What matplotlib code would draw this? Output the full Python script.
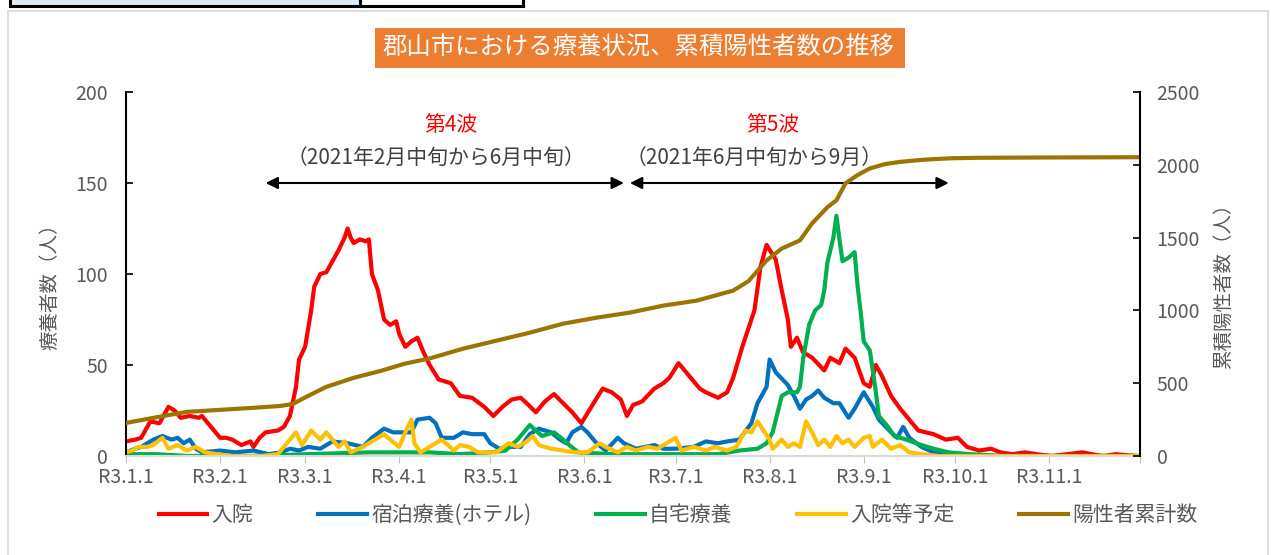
import datetime as dt
import matplotlib.pyplot as plt
import matplotlib.dates as mdates
from matplotlib.patches import Rectangle

plt.rcParams['font.family'] = ['Noto Sans CJK JP', 'DejaVu Sans']

start = dt.date(2021, 1, 1)
end = dt.date(2021, 12, 1)

# (日数 from 2021-01-01, 値)
nyuin = [(0, 8), (3, 9), (5, 10), (8, 19), (11, 18), (14, 27), (16, 25), (18, 21), (21, 22), (24, 21),
         (25, 22), (28, 16), (31, 10), (33, 10), (35, 9), (38, 6), (41, 8), (42, 5), (44, 10), (46, 13),
         (50, 14), (52, 16), (54, 22), (56, 38), (57, 53), (59, 60), (61, 80), (62, 93), (64, 100), (66, 101),
         (68, 107), (70, 113), (72, 120), (73, 125), (74, 120), (75, 117), (77, 119), (79, 118), (80, 119),
         (81, 100), (83, 91), (85, 75), (87, 72), (89, 74), (90, 67), (92, 60), (94, 63), (96, 65), (98, 57),
         (100, 50), (103, 42), (107, 40), (110, 33), (114, 32), (118, 27), (121, 22), (124, 27), (127, 31),
         (130, 32), (132, 29), (135, 24), (138, 30), (141, 34), (144, 29), (147, 24), (150, 18), (154, 29),
         (157, 37), (160, 35), (163, 31), (165, 22), (167, 28), (170, 30), (174, 37), (177, 40), (179, 43),
         (182, 51), (186, 43), (189, 37), (191, 35), (195, 32), (198, 35), (200, 43), (203, 60), (207, 80),
         (209, 104), (211, 116), (214, 108), (216, 91), (218, 75), (219, 60), (221, 65), (223, 57), (226, 54),
         (230, 47), (232, 54), (235, 51), (237, 59), (240, 54), (243, 40), (245, 38), (247, 50), (249, 44),
         (252, 33), (255, 26), (258, 20), (261, 14), (266, 12), (270, 9), (274, 10), (277, 5), (281, 3),
         (285, 4), (288, 2), (292, 1), (296, 2), (300, 1), (305, 0), (310, 1), (315, 2), (318, 1), (322, 0),
         (326, 1), (333, 0)]

hotel = [(0, 2), (3, 4), (5, 5), (9, 9), (12, 11), (15, 9), (17, 10), (19, 7), (21, 9), (23, 4), (25, 2),
         (31, 3), (36, 2), (42, 3), (47, 1), (51, 2), (54, 4), (57, 3), (60, 5), (64, 4), (68, 8), (73, 7),
         (78, 5), (81, 10), (85, 15), (88, 13), (90, 13), (94, 13), (96, 20), (100, 21), (102, 18), (104, 10),
         (108, 10), (111, 13), (114, 12), (118, 12), (120, 7), (123, 4), (127, 5), (130, 5), (133, 12),
         (136, 15), (140, 13), (143, 9), (145, 7), (147, 13), (150, 16), (152, 13), (155, 7), (158, 3),
         (162, 10), (164, 7), (168, 4), (174, 6), (177, 4), (181, 4), (187, 5), (191, 8), (195, 7), (198, 8),
         (202, 9), (206, 18), (208, 29), (211, 38), (212, 53), (214, 46), (218, 39), (220, 33), (222, 26),
         (224, 31), (226, 33), (228, 36), (230, 32), (233, 29), (235, 29), (238, 21), (240, 26), (243, 35),
         (246, 27), (248, 20), (252, 13), (254, 10), (256, 16), (258, 10), (262, 5), (266, 2), (272, 1),
         (280, 0), (333, 0)]

jitaku = [(0, 1), (10, 1), (20, 0), (40, 0), (60, 1), (80, 2), (100, 2), (110, 1), (120, 2), (125, 3),
          (129, 9), (131, 13), (133, 17), (135, 14), (137, 11), (141, 13), (144, 9), (146, 6), (149, 2),
          (160, 1), (180, 1), (195, 1), (202, 3), (208, 4), (211, 7), (213, 13), (216, 33), (218, 35),
          (221, 35), (222, 38), (223, 53), (225, 72), (227, 80), (229, 83), (230, 91), (231, 106), (233, 120),
          (234, 132), (235, 119), (236, 107), (238, 109), (240, 112), (241, 93), (242, 79), (243, 63),
          (245, 58), (246, 47), (247, 35), (248, 22), (251, 16), (253, 11), (257, 9), (262, 6), (266, 4),
          (271, 2), (278, 1), (290, 0), (333, 0)]

yotei = [(0, 2), (2, 3), (4, 5), (7, 5), (9, 6), (12, 10), (14, 4), (17, 6), (20, 3), (23, 5), (26, 2),
         (30, 1), (35, 0), (45, 0), (50, 1), (53, 7), (56, 13), (58, 6), (61, 14), (64, 9), (66, 13), (70, 5),
         (72, 8), (74, 2), (78, 5), (81, 8), (85, 12), (87, 9), (90, 5), (92, 13), (94, 20), (95, 7), (97, 2),
         (100, 5), (104, 9), (108, 3), (110, 6), (113, 5), (116, 2), (122, 2), (126, 7), (129, 5), (132, 8),
         (134, 11), (136, 6), (140, 4), (144, 3), (148, 2), (152, 2), (156, 7), (158, 5), (162, 2), (165, 5),
         (168, 3), (172, 5), (175, 4), (178, 7), (181, 10), (183, 3), (187, 5), (191, 3), (194, 5), (198, 3),
         (201, 5), (204, 14), (206, 13), (208, 19), (210, 14), (212, 9), (213, 4), (216, 9), (218, 5),
         (220, 7), (222, 5), (224, 19), (226, 13), (228, 6), (230, 9), (232, 5), (234, 11), (236, 7),
         (238, 9), (240, 5), (243, 10), (245, 11), (246, 5), (249, 9), (252, 4), (255, 6), (258, 2),
         (262, 1), (268, 0), (333, 0)]

ruikei = [(0, 227), (9, 262), (20, 303), (31, 317), (42, 331), (51, 344), (55, 358), (60, 413), (66, 475),
          (75, 537), (84, 585), (92, 635), (100, 670), (111, 737), (122, 792), (133, 847), (144, 909),
          (155, 950), (166, 985), (177, 1033), (188, 1067), (200, 1136), (205, 1200), (211, 1343),
          (216, 1425), (222, 1481), (226, 1598), (231, 1708), (234, 1756), (237, 1873), (241, 1930),
          (245, 1975), (250, 2005), (255, 2020), (260, 2030), (265, 2038), (272, 2045), (280, 2048),
          (300, 2050), (333, 2052)]

month_labels = ['R3.1.1', 'R3.2.1', 'R3.3.1', 'R3.4.1', 'R3.5.1', 'R3.6.1', 'R3.7.1',
                'R3.8.1', 'R3.9.1', 'R3.10.1', 'R3.11.1', '']


def split(pairs):
    return [start + dt.timedelta(days=d) for d, _ in pairs], [v for _, v in pairs]


W, H = 1271, 555
fig = plt.figure(figsize=(W / 100, H / 100), dpi=100)

# 枠
fig.patches.append(Rectangle((8 / W, -0.02), 1260 / W, 544 / H + 0.02, transform=fig.transFigure,
                             fill=False, edgecolor='#D9D9D9', lw=1.2))
fig.patches.append(Rectangle((10 / W, 1 - 6 / H), 350 / W, 0.05, transform=fig.transFigure,
                             facecolor='#DDEBF7', edgecolor='black', lw=2.2))
fig.patches.append(Rectangle((360 / W, 1 - 6 / H), 163 / W, 0.05, transform=fig.transFigure,
                             facecolor='white', edgecolor='black', lw=2.2))

# タイトル
fig.patches.append(Rectangle((375 / W, 1 - 68 / H), 530 / W, 40 / H, transform=fig.transFigure,
                             facecolor='#ED7D31', edgecolor='none'))
fig.text(638 / W, 1 - 48 / H, '郡山市における療養状況、累積陽性者数の推移', color='white',
         fontsize=17.6, ha='center', va='center')

ax = fig.add_axes([126 / W, 99 / H, 1014 / W, 364 / H])
ax2 = ax.twinx()

lw = 3
l1, = ax.plot(*split(nyuin), color='#FF0000', lw=lw, label='入院')
l2, = ax.plot(*split(hotel), color='#0070C0', lw=lw, label='宿泊療養(ホテル)')
l3, = ax.plot(*split(jitaku), color='#00B050', lw=lw, label='自宅療養')
l4, = ax.plot(*split(yotei), color='#FFC000', lw=lw, label='入院等予定')
l5, = ax2.plot(*split(ruikei), color='#9C7400', lw=lw, label='陽性者累計数')

ax.set_xlim(start, end)
ax.set_ylim(0, 200)
ax2.set_ylim(0, 2500)
ax.set_yticks([0, 50, 100, 150, 200])
ax2.set_yticks([0, 500, 1000, 1500, 2000, 2500])
ax.set_xticks([dt.date(2021, m, 1) for m in range(1, 13)])
ax.set_xticklabels(month_labels)

for a in (ax, ax2):
    a.spines['top'].set_visible(False)
ax.spines['right'].set_visible(False)
ax2.spines['left'].set_visible(False)
ax2.spines['bottom'].set_visible(False)
ax.spines['bottom'].set_color('#D9D9D9')
ax.spines['bottom'].set_linewidth(1.5)
ax.spines['left'].set_linewidth(1.5)
ax2.spines['right'].set_linewidth(1.5)

ax.tick_params(axis='y', direction='in', length=5, width=1.2, labelsize=14, labelcolor='#595959', pad=13)
ax2.tick_params(axis='y', direction='in', length=5, width=1.2, labelsize=14, labelcolor='#595959', pad=12)
ax.tick_params(axis='x', direction='out', length=5, color='#BFBFBF', labelsize=14,
               labelcolor='#595959', pad=3)

fig.text(50 / W, 1 - 282 / H, '療養者数（人）', rotation=90, ha='center', va='center',
         fontsize=14, color='#595959')
fig.text(1223 / W, 1 - 280 / H, '累積陽性者数（人）', rotation=90, ha='center', va='center',
         fontsize=14, color='#595959')

# 波の注記
d = lambda n: start + dt.timedelta(days=n)
arrow = dict(arrowstyle='<|-|>', color='black', lw=1.5, mutation_scale=18, shrinkA=0, shrinkB=0)
ax.annotate('', xy=(d(46), 150), xytext=(d(164.5), 150), arrowprops=arrow)
ax.annotate('', xy=(d(166), 150), xytext=(d(271.5), 150), arrowprops=arrow)
ax.text(d(107.5), 182, '第4波', color='#FF0000', fontsize=15, ha='center', va='center')
ax.text(d(102.5), 164, '（2021年2月中旬から6月中旬）', color='#404040', fontsize=15, ha='center', va='center')
ax.text(d(213.5), 182, '第5波', color='#FF0000', fontsize=15, ha='center', va='center')
ax.text(d(207.5), 164, '（2021年6月中旬から9月）', color='#404040', fontsize=15, ha='center', va='center')

fig.legend(handles=[l1, l2, l3, l4, l5], loc='center', bbox_to_anchor=(678 / W, 1 - 515 / H), ncol=5,
           frameon=False, fontsize=15, handlelength=2.35, handletextpad=0.2, columnspacing=3.1,
           labelcolor='#595959')

fig.savefig('out.png', dpi=100)
